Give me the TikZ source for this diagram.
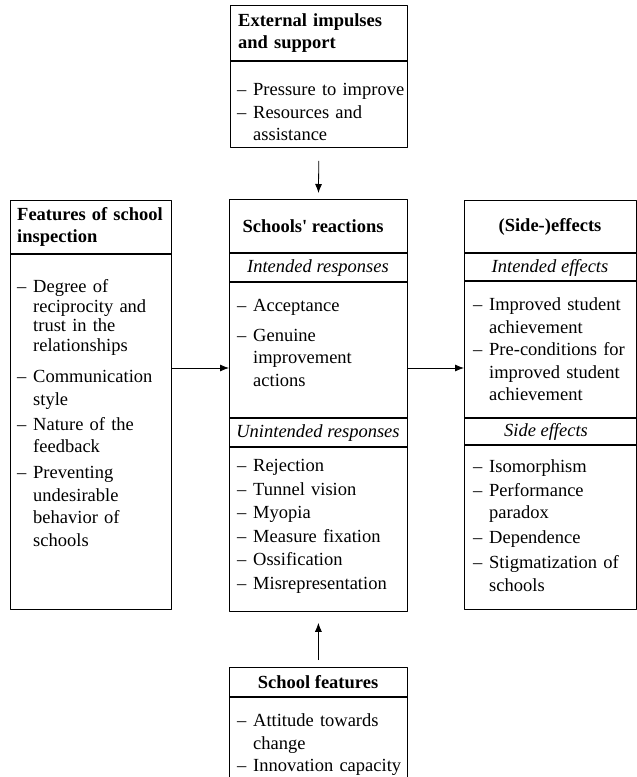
\documentclass[tikz,border=0pt]{standalone}
\usepackage{fontspec}
\setmainfont{Liberation Serif}
\usetikzlibrary{positioning,arrows.meta}
% one list entry with a hanging dash
\newcommand{\itm}[2][0pt]{\par\vspace{#1}\hangindent=16pt\hangafter=1\noindent\makebox[16pt][l]{--}#2\par}

\begin{document}
\begin{tikzpicture}[x=1pt, y=-1pt, line join=round, >={Latex[length=9pt,width=7pt]},
  font=\fontsize{18.5}{22.5}\selectfont,
  frame/.style={draw, line width=0.8pt, inner sep=0pt, anchor=north west},
  divider/.style={line width=1.3pt},
  head/.style={inner sep=0pt, font=\fontsize{18.5}{22.5}\selectfont\bfseries},
  sub/.style={inner sep=0pt, font=\fontsize{18.5}{22.5}\selectfont\itshape},
  body/.style={inner sep=0pt, anchor=north west, align=left, text width=175pt},
  link/.style={->, line width=0.8pt}]
  \useasboundingbox (0,0) rectangle (637,777);

  % frames
  \node[frame, minimum width=177pt, minimum height=142pt] (ext) at (230,5) {};
  \node[frame, minimum width=161pt, minimum height=409pt] (insp) at (10,200) {};
  \node[frame, minimum width=178pt, minimum height=412pt] (reac) at (229,199) {};
  \node[frame, minimum width=172pt, minimum height=409pt] (eff) at (464,200) {};
  \node[frame, minimum width=178pt, minimum height=130pt] (feat) at (229,667) {};

  % dividers
  \draw[divider] (ext.west |- 0,61) -- (ext.east |- 0,61);
  \draw[divider] (insp.west |- 0,254) -- (insp.east |- 0,254);
  \foreach \yy in {253,282,418,447}
    \draw[divider] (reac.west |- 0,\yy) -- (reac.east |- 0,\yy);
  \foreach \yy in {253,281,418,445}
    \draw[divider] (eff.west |- 0,\yy) -- (eff.east |- 0,\yy);
  \draw[divider] (feat.west |- 0,697) -- (feat.east |- 0,697);

  % external impulses
  \node[head, anchor=west, align=left, text width=165pt] (exthead) at (238,33) {External impulses\\and support};
  \node[body] (extbody) at (237,73) {\itm{Pressure to improve}\itm{Resources and\newline assistance}};

  % features of school inspection
  \node[head, anchor=west, align=left, text width=152pt] (insphead) at (17,227) {Features of school\\inspection};
  \node[body] (inspbody) at (17,273) {\begingroup\fontsize{18.5}{19.5}\selectfont\itm{Degree of\newline reciprocity and\newline trust in the\newline relationships}\endgroup
    \itm[9pt]{Communication\newline style}\itm[2.5pt]{Nature of the\newline feedback}\itm[3.5pt]{Preventing\newline undesirable\newline behavior of\newline schools}};

  % schools' reactions
  \node[head] (reachead) at (313,226) {Schools\textquotesingle{} reactions};
  \node[sub] (reacint) at (318,268) {Intended responses};
  \node[body] (reacintbody) at (237,289) {\itm{Acceptance}\itm[7pt]{Genuine\newline improvement\newline actions}};
  \node[sub] (reacunint) at (318,433) {Unintended responses};
  \node[body] (reacunintbody) at (237,449) {\itm{Rejection}\itm[1pt]{Tunnel vision}\itm[1pt]{Myopia}\itm[1pt]{Measure fixation}\itm[1pt]{Ossification}\itm[1pt]{Misrepresentation}};

  % (side-)effects
  \node[head] (effhead) at (550,227) {(Side-)effects};
  \node[sub] (effint) at (550,268) {Intended effects};
  \node[body] (effintbody) at (473,288) {\itm{Improved student\newline achievement}\itm{Pre-conditions for\newline improved student\newline achievement}};
  \node[sub] (effside) at (546,432) {Side effects};
  \node[body] (effsidebody) at (473,450) {\itm{Isomorphism}\itm[1pt]{Performance\newline paradox}\itm[2.5pt]{Dependence}\itm[2.5pt]{Stigmatization of\newline schools}};

  % school features
  \node[head] (feathead) at (318,682) {School features};
  \node[body] (featbody) at (237,704) {\itm{Attitude towards\newline change}\itm{Innovation capacity}};

  % arrows
  \coordinate (flow) at (0,368);
  \draw[link, shorten <=13pt, shorten >=6pt] (ext.south) -- (reac.north);
  \draw[link] (insp.east |- flow) -- (reac.west |- flow);
  \draw[link] (reac.east |- flow) -- (eff.west |- flow);
  \draw[link, shorten <=7pt, shorten >=11pt] (feat.north) -- (reac.south);
\end{tikzpicture}
\end{document}
